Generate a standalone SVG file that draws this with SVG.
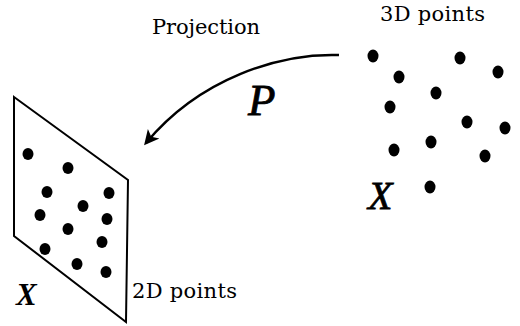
<svg xmlns="http://www.w3.org/2000/svg" width="520" height="326" viewBox="0 0 520 326">
<style>
.lbl{font-family:"DejaVu Serif","Liberation Serif",serif;font-size:21px;fill:#000}
.math{font-family:"Liberation Serif","DejaVu Serif",serif;font-style:italic;fill:#000}
.bold{font-weight:bold}
.dot{fill:#000}
</style>
<defs>
<marker id="ah" viewBox="0 0 10 10" refX="8" refY="5" markerWidth="7" markerHeight="6" orient="auto" markerUnits="strokeWidth">
<path d="M0,0 L10,5 L0,10 L2.5,5 z" fill="#000"/>
</marker>
</defs>
<rect width="520" height="326" fill="#fff"/>
<g id="plane">
<polygon points="14,97 128,180 126,322 14,236" fill="none" stroke="#000" stroke-width="2"/>
<ellipse class="dot" cx="28" cy="154" rx="5.5" ry="6"/>
<ellipse class="dot" cx="68" cy="168" rx="5.5" ry="6"/>
<ellipse class="dot" cx="47" cy="192" rx="5.5" ry="6"/>
<ellipse class="dot" cx="109" cy="193" rx="5.5" ry="6"/>
<ellipse class="dot" cx="83" cy="206" rx="5.5" ry="6"/>
<ellipse class="dot" cx="40" cy="215" rx="5.5" ry="6"/>
<ellipse class="dot" cx="107" cy="219" rx="5.5" ry="6"/>
<ellipse class="dot" cx="68" cy="229" rx="5.5" ry="6"/>
<ellipse class="dot" cx="102" cy="242" rx="5.5" ry="6"/>
<ellipse class="dot" cx="45" cy="249" rx="5.5" ry="6"/>
<ellipse class="dot" cx="77" cy="264" rx="5.5" ry="6"/>
<ellipse class="dot" cx="106" cy="272" rx="5.5" ry="6"/>
<text class="math bold" x="16" y="305" font-size="31">X</text>
<text class="lbl" x="132" y="298" textLength="105">2D points</text>
</g>
<g id="points3d">
<ellipse class="dot" cx="373" cy="56" rx="5.5" ry="6.5"/>
<ellipse class="dot" cx="460" cy="58" rx="5.5" ry="6.5"/>
<ellipse class="dot" cx="498" cy="72" rx="5.5" ry="6.5"/>
<ellipse class="dot" cx="399" cy="77" rx="5.5" ry="6.5"/>
<ellipse class="dot" cx="436" cy="93" rx="5.5" ry="6.5"/>
<ellipse class="dot" cx="390" cy="107" rx="5.5" ry="6.5"/>
<ellipse class="dot" cx="467" cy="122" rx="5.5" ry="6.5"/>
<ellipse class="dot" cx="505" cy="128" rx="5.5" ry="6.5"/>
<ellipse class="dot" cx="431" cy="142" rx="5.5" ry="6.5"/>
<ellipse class="dot" cx="394" cy="150" rx="5.5" ry="6.5"/>
<ellipse class="dot" cx="485" cy="156" rx="5.5" ry="6.5"/>
<ellipse class="dot" cx="430" cy="187" rx="5.5" ry="6.5"/>
<text class="math" x="368" y="209" font-size="40" stroke="#000" stroke-width="0.8">X</text>
<text class="lbl" x="380" y="21" textLength="105">3D points</text>
</g>
<g id="connectors">
<path d="M339,55 C280,53 200,78 146,143" fill="none" stroke="#000" stroke-width="2.5" marker-end="url(#ah)"/>
<text class="lbl" x="152" y="34" textLength="108">Projection</text>
<text class="math" x="248" y="115" font-size="45" stroke="#000" stroke-width="0.8">P</text>
</g>
</svg>
